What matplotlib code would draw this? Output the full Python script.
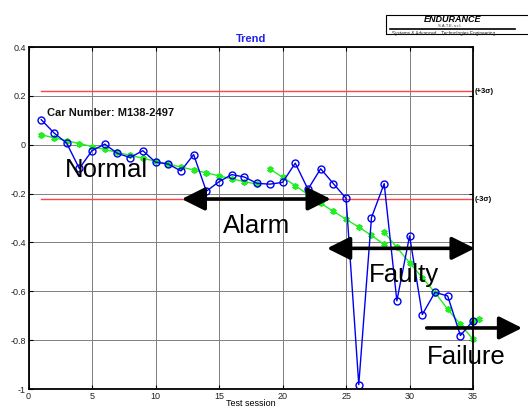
import matplotlib
matplotlib.use("Agg")
import matplotlib.pyplot as plt
from matplotlib.patches import Rectangle

plt.rcParams['font.family'] = ['Liberation Sans', 'DejaVu Sans']

# ---- data ----
sessions = list(range(1, 36))
trend_values = [0.103, 0.049, 0.007, -0.097, -0.024, 0.003, -0.035, -0.052, -0.024, -0.071,
                -0.079, -0.107, -0.040, -0.190, -0.151, -0.122, -0.132, -0.158, -0.161, -0.154,
                -0.075, -0.182, -0.098, -0.159, -0.219, -0.982, -0.298, -0.159, -0.639, -0.373,
                -0.695, -0.604, -0.619, -0.781, -0.720]

fit1_x = list(range(1, 19))
fit1_y = [0.041, 0.029, 0.017, 0.005, -0.007, -0.019, -0.031, -0.043, -0.055, -0.067,
          -0.079, -0.091, -0.103, -0.115, -0.127, -0.139, -0.151, -0.161]
fit2_x = list(range(19, 29))
fit2_y = [-0.099, -0.133, -0.167, -0.204, -0.240, -0.272, -0.305, -0.337, -0.371, -0.408]
fit3_x = list(range(28, 36))
fit3_y = [-0.358, -0.420, -0.483, -0.544, -0.605, -0.673, -0.735, -0.797]
fit4_x = [35, 35.5]
fit4_y = [-0.720, -0.715]

upper_limit = 0.22
lower_limit = -0.222
limit_x = [1, 35]

xticks = [0, 5, 10, 15, 20, 25, 30, 35]
yticks = [-1, -0.8, -0.6, -0.4, -0.2, 0, 0.2, 0.4]
ytick_labels = ['-1', '-0.8', '-0.6', '-0.4', '-0.2', '0', '0.2', '0.4']

# ---- figure ----
fig = plt.figure(figsize=(5.28, 4.07), dpi=100)
ax = fig.add_axes([0.054, 0.0442, 0.842, 0.840])
ax.set_xlim(0, 35)
ax.set_ylim(-1, 0.4)

ax.grid(True, color='0.5', lw=0.7)
ax.set_axisbelow(True)

ax.plot(limit_x, [upper_limit] * 2, color='#ff4444', lw=1.0)
ax.plot(limit_x, [lower_limit] * 2, color='#ff4444', lw=1.0)

green = '#22ee22'
ast = (6, 2, 0)
for fx, fy in [(fit1_x, fit1_y), (fit2_x, fit2_y), (fit3_x, fit3_y), (fit4_x, fit4_y)]:
    ax.plot(fx, fy, color=green, lw=1.0, marker=ast, ms=4.5, mew=1.3, clip_on=False)

ax.plot(sessions, trend_values, color='#0000ee', lw=1.0, marker='o', ms=5,
        mfc='none', mec='#0000ee', mew=1.0, clip_on=False)

ax.set_xticks(xticks)
ax.set_yticks(yticks)
ax.set_yticklabels(ytick_labels)
ax.tick_params(direction='in', length=3, labelsize=6.5, top=True, right=True, pad=2,
               colors='black', labelcolor='#222222')
for s in ax.spines.values():
    s.set_linewidth(1.3)

ax.set_title('Trend', color='#2222ee', fontsize=8, fontweight='bold', pad=4)
ax.set_xlabel('Test session', fontsize=6.5, labelpad=-1)

ax.text(1.46, 0.12, 'Car Number: M138-2497', fontsize=8, fontweight='bold', color='#111111')
ax.text(35.1, upper_limit, '(+3σ)', fontsize=5.5, fontweight='bold', va='center', ha='left',
        family=['Liberation Sans', 'DejaVu Sans'])
ax.text(35.1, lower_limit, '(-3σ)', fontsize=5.5, fontweight='bold', va='center', ha='left',
        family=['Liberation Sans', 'DejaVu Sans'])

big = 18.5
ax.text(2.87, -0.133, 'Normal', fontsize=big, va='baseline')
ax.text(15.3, -0.363, 'Alarm', fontsize=big, va='baseline')
ax.text(26.8, -0.563, 'Faulty', fontsize=big, va='baseline')
ax.text(31.35, -0.898, 'Failure', fontsize=big, va='baseline', clip_on=False)

arrow_kw = dict(arrowstyle='<|-|>,head_length=0.7,head_width=0.35', color='black', lw=2.6,
                mutation_scale=20, shrinkA=0, shrinkB=0)
ax.annotate('', xy=(12.06, -0.222), xytext=(23.8, -0.222), arrowprops=arrow_kw, annotation_clip=False)
ax.annotate('', xy=(23.5, -0.424), xytext=(35.13, -0.424), arrowprops=arrow_kw, annotation_clip=False)
arrow_kw1 = dict(arrow_kw)
arrow_kw1['arrowstyle'] = '-|>,head_length=0.7,head_width=0.35'
ax.annotate('', xy=(38.86, -0.75), xytext=(31.35, -0.75), arrowprops=arrow_kw1, annotation_clip=False)

# ---- logo ----
fig.patches.append(Rectangle((386 / 528, 373 / 407), 0.3, 19 / 407, transform=fig.transFigure,
                             fill=False, edgecolor='black', lw=0.8))
fig.text(453 / 528, 1 - 19 / 407, 'ENDURANCE', fontsize=6.5, fontweight='bold', style='italic',
         ha='center', va='center')
fig.text(450 / 528, 1 - 26 / 407, 'S.A.T.E. s.r.l.', fontsize=3, ha='center', va='center', color='#333333')
fig.add_artist(matplotlib.lines.Line2D([390 / 528, 515 / 528], [1 - 29 / 407] * 2,
                                       transform=fig.transFigure, color='black', lw=1.2))
fig.text(392 / 528, 1 - 33 / 407, 'Systems & Advanced    Technologies Engineering', fontsize=3.3,
         ha='left', va='center', color='#222222')

fig.savefig('out.png', dpi=100)
